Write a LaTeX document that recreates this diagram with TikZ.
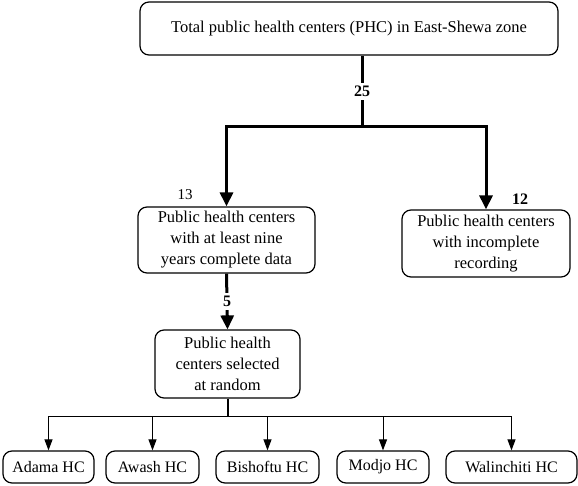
\documentclass[tikz,border=0pt]{standalone}
\usepackage{fontspec}
\setmainfont{Liberation Serif}
\usetikzlibrary{arrows.meta}

\begin{document}
\begin{tikzpicture}[x=1pt,y=-1pt,
    box/.style={draw,line width=1.2pt,rounded corners=9pt,align=center,inner sep=2pt,font=\fontsize{16.5}{21}\selectfont},
    bigarrow/.style={line width=3pt,-{Triangle[width=13pt,length=14pt]}},
    smallarrow/.style={line width=1pt,-{Triangle[width=8pt,length=11pt]}},
    num/.style={font=\fontsize{16}{18}\selectfont\bfseries}]
    \useasboundingbox (0,0) rectangle (578,486);
    \node[box,minimum width=418pt,minimum height=53pt] (total) at (349,28.5) {Total public health centers (PHC) in East-Shewa zone};
    \node[box,minimum width=177pt,minimum height=66pt] (complete) at (226.5,240) {Public health centers\\with at least nine\\years complete data};
    \node[box,minimum width=168pt,minimum height=67pt] (incomplete) at (486,243.5) {Public health centers\\with incomplete\\recording};
    \node[box,minimum width=145pt,minimum height=68pt] (random) at (227.5,364) {Public health\\centers selected\\at random};
    \foreach \name/\x/\w/\lbl in {adama/48.5/91/Adama HC,awash/152.5/93/Awash HC,bishoftu/267.5/103/Bishoftu HC,modjo/383/92/Modjo HC,walinchiti/511.5/131/Walinchiti HC}
        \node[box,minimum width=\w pt,minimum height=32pt,font=\fontsize{16}{20}\selectfont] (\name) at (\x,467) {\lbl};

    \coordinate (split) at (362,127);
    \draw[line width=3pt] (total.south -| split) -- node[fill=white,num]{25} (split);
    \draw[bigarrow] (split) -| (complete.north);
    \draw[bigarrow] (split) -| (incomplete.north);
    \node[font=\fontsize{15}{16}\selectfont] (n13) at (185,195) {13};
    \node[num] (n12) at (520,199) {12};

    \draw[bigarrow] (complete.south) -- node[fill=white,num]{5} (random.north);
    \coordinate (hub) at (random.south |- 0,416);
    \draw[line width=2pt] (random.south) -- (hub);
    \foreach \name in {adama,awash,bishoftu,modjo,walinchiti}
        \draw[smallarrow] (hub) -| (\name.north);
\end{tikzpicture}
\end{document}
